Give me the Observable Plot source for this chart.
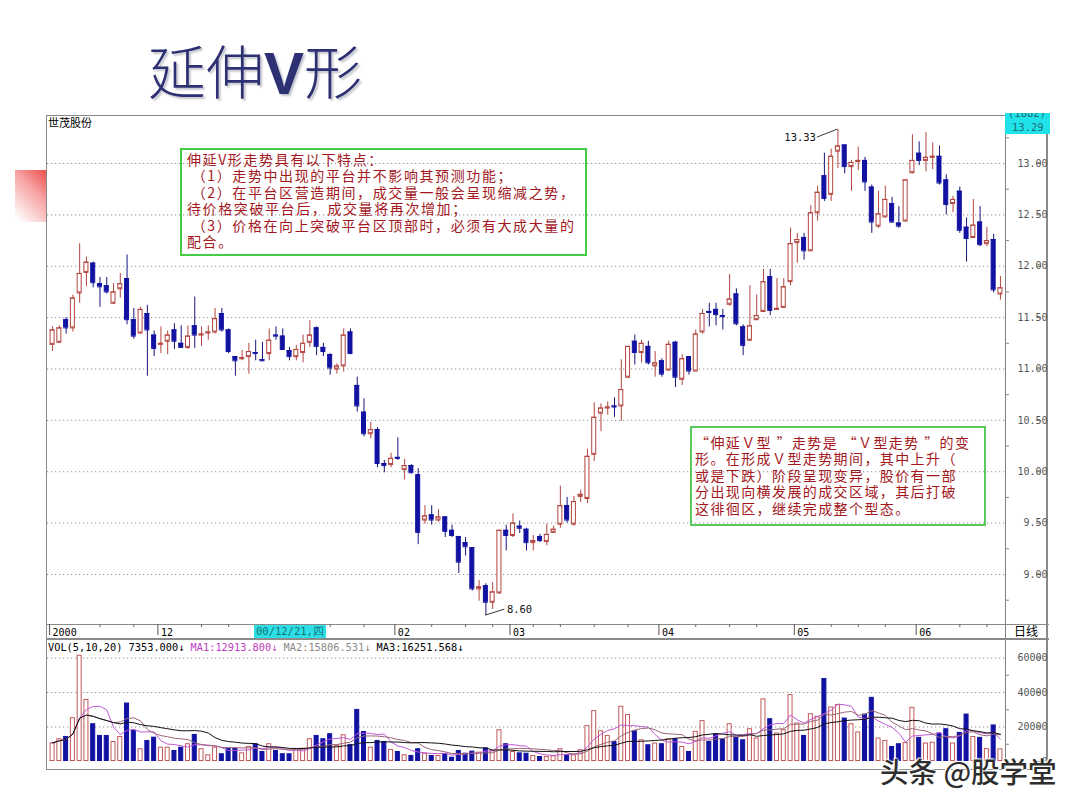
<!DOCTYPE html>
<html>
<head>
<meta charset="utf-8">
<script src="https://cdn.jsdelivr.net/npm/d3@7"></script>
<script src="https://cdn.jsdelivr.net/npm/@observablehq/plot@0.6"></script>
<style>
  html, body { margin: 0; padding: 0; background: #fff; }
  body { width: 1080px; height: 810px; position: relative; overflow: hidden; font-family: "Noto Sans CJK SC", sans-serif; }
  .abs { position: absolute; }
  #title { left: 148px; top: 40px; font-size: 58px; line-height: 58px; color: #2d3073; font-weight: 300; text-shadow: 2px 2px 2px rgba(60,60,90,0.3); white-space: nowrap; }
  #title b { font-family: "Liberation Sans", sans-serif; font-weight: 700; font-size: 60px; }
  #redsq { left: 15px; top: 170px; width: 31px; height: 52px; background: linear-gradient(225deg, #ef4f4f 0%, #f7a5a5 40%, #ffffff 95%); }
  #frame { left: 46px; top: 115px; width: 1002px; height: 655px; border: 1px solid #8a8a8a; border-right: 2px solid #8a8a8a; box-sizing: border-box; }
  .vline { background: #808080; width: 1px; }
  .hline { background: #8a8a8a; height: 1px; }
  .mono { font-family: "DejaVu Sans Mono", monospace; }
  .box { border: 2px solid #45cc45; box-sizing: border-box; color: #a3171d; }
  .box div { white-space: pre; }
  #box1 { left: 180px; top: 148px; width: 407px; height: 108px; padding: 1px 0 0 5px; font-size: 14px; line-height: 16.4px; letter-spacing: 1.6px; }
  #box2 { left: 690px; top: 426px; width: 296px; height: 100px; padding: 6px 0 0 3px; font-size: 14px; line-height: 16.4px; letter-spacing: 1.4px; border-width: 2.5px; border-color: #5bc95b; }
  #stock { left: 48px; top: 116px; font-size: 11px; line-height: 13px; color: #000; }
  #curbox { left: 1005px; top: 113px; width: 45px; height: 21px; background: #20e3ea; overflow: hidden; color: #1f6c78; font-size: 10.5px; }
  #curbox .a { position: absolute; left: 3px; top: -6px; }
  #curbox .b { position: absolute; left: 7px; top: 8px; }
  #datebox { left: 254px; top: 625px; width: 72px; height: 13px; background: #2ee0e6; color: #137278; font-size: 10.5px; line-height: 13px; padding-left: 2px; box-sizing: border-box; white-space: nowrap; }
  #rixian { left: 1014px; top: 624px; font-size: 12px; line-height: 14px; color: #000; }
  #volhead { left: 48px; top: 641px; font-size: 10.3px; line-height: 12px; white-space: pre; color: #000; }
  #wm { left: 880px; top: 754px; font-size: 28.5px; line-height: 34px; color: #2e2e2e; font-weight: 500; white-space: nowrap; text-shadow: 0 0 2px #fff, 0 0 2px #fff, 1px 1px 1px #fff, -1px -1px 1px #fff; }
  svg { overflow: visible; }
</style>
</head>
<body>
<div id="title" class="abs">延伸<b>V</b>形</div>
<div id="redsq" class="abs"></div>
<div id="frame" class="abs"></div>
<div class="abs vline" style="left:1005px;top:115px;height:655px;"></div>
<div class="abs hline" style="left:46px;top:624px;width:1003px;"></div>
<div class="abs hline" style="left:46px;top:638px;width:1003px;height:2px;"></div>
<div id="stock" class="abs">世茂股份</div>
<div id="curbox" class="abs mono"><span class="a">(1882)</span><span class="b">13.29</span></div>
<div id="price" class="abs" style="left:0;top:0;"></div>
<div id="vol" class="abs" style="left:0;top:620px;"></div>
<div id="datebox" class="abs mono">00/12/21,四</div>
<div id="rixian" class="abs">日线</div>
<div id="volhead" class="abs mono"></div>
<div id="box1" class="abs box">
<div>伸延V形走势具有以下特点：</div>
<div> （1）走势中出现的平台并不影响其预测功能；</div>
<div> （2）在平台区营造期间，成交量一般会呈现缩减之势，</div>
<div>待价格突破平台后，成交量将再次增加；</div>
<div> （3）价格在向上突破平台区顶部时，必须有大成大量的</div>
<div>配合。</div>
</div>
<div id="box2" class="abs box">
<div>“伸延Ｖ型 ”走势是 “Ｖ型走势 ”的变</div>
<div>形。在形成Ｖ型走势期间，其中上升（</div>
<div>或是下跌）阶段呈现变异，股价有一部</div>
<div>分出现向横发展的成交区域，其后打破</div>
<div>这徘徊区，继续完成整个型态。</div>
</div>
<div id="wm" class="abs">头条 @股学堂</div>

<script>
// ---- data ----
const opens = [11.24,11.26,11.48,11.40,11.74,11.94,12.03,11.83,11.81,11.64,11.78,11.88,11.48,11.35,11.54,11.33,11.24,11.27,11.38,11.25,
11.21,11.42,11.33,11.35,11.36,11.54,11.38,11.12,11.10,11.12,11.16,11.09,11.15,11.33,11.32,11.18,11.12,11.16,11.26,11.40,
11.21,11.14,11.00,11.03,11.36,10.84,10.58,10.37,10.41,10.08,10.07,10.14,10.02,10.06,9.97,9.53,9.58,9.53,9.56,9.43,
9.37,9.31,9.26,8.86,8.89,8.73,8.82,9.43,9.38,9.47,9.44,9.31,9.37,9.32,9.41,9.49,9.67,9.49,9.76,9.74,
10.17,10.57,10.62,10.64,10.64,10.92,11.27,11.16,11.22,11.03,11.08,10.99,11.26,10.90,11.12,10.98,11.36,11.56,11.58,11.52,
11.63,11.73,11.41,11.28,11.48,11.56,11.90,11.58,11.60,11.85,12.23,12.28,12.15,12.52,12.88,12.70,13.12,13.18,12.97,13.02,
13.03,12.77,12.39,12.48,12.61,12.42,12.44,12.91,13.10,13.03,13.06,13.07,12.84,12.61,12.73,12.38,12.28,12.43,12.22,12.26,
11.73];
const highs = [11.41,11.42,11.50,11.72,12.22,12.09,12.04,11.89,11.89,11.83,11.93,12.11,11.59,11.60,11.62,11.37,11.41,11.37,11.44,11.42,
11.42,11.70,11.41,11.42,11.59,11.59,11.39,11.12,11.18,11.25,11.28,11.26,11.39,11.41,11.39,11.21,11.23,11.33,11.47,11.41,
11.25,11.15,11.05,11.39,11.39,10.92,10.71,10.48,10.43,10.11,10.18,10.33,10.12,10.07,10.03,9.67,9.67,9.63,9.56,9.48,
9.37,9.36,9.26,8.94,8.91,8.92,9.43,9.48,9.59,9.52,9.45,9.38,9.39,9.49,9.47,9.86,9.75,9.76,9.82,10.22,
10.67,10.66,10.68,10.72,11.09,11.22,11.33,11.28,11.27,11.17,11.10,11.27,11.27,11.14,11.12,11.38,11.58,11.64,11.64,11.58,
11.92,11.78,11.43,11.81,11.72,11.97,11.97,11.88,11.88,12.37,12.32,12.32,12.59,12.78,13.10,13.14,13.33,13.18,13.03,13.16,
13.06,12.79,12.73,12.78,12.67,12.58,12.84,13.28,13.21,13.30,13.20,13.17,12.89,12.68,12.77,12.47,12.65,12.58,12.38,12.31,
11.90];
const lows = [11.17,11.25,11.34,11.36,11.64,11.80,11.79,11.60,11.73,11.63,11.69,11.43,11.29,11.34,10.93,11.12,11.15,11.14,11.19,11.20,
11.19,11.20,11.22,11.28,11.34,11.36,11.15,10.93,11.08,10.95,11.08,11.07,11.08,11.28,11.18,11.08,11.08,11.06,11.21,11.13,
11.12,10.94,10.95,10.97,11.14,10.58,10.34,10.32,10.04,9.99,10.04,10.11,9.92,9.98,9.29,9.49,9.48,9.51,9.36,9.36,
9.01,9.18,8.84,8.74,8.60,8.66,8.81,9.23,9.36,9.40,9.23,9.23,9.31,9.28,9.40,9.45,9.50,9.47,9.70,9.69,
10.10,10.39,10.55,10.53,10.49,10.91,11.04,11.06,11.04,10.92,10.92,10.98,10.82,10.84,10.94,10.98,11.34,11.41,11.42,11.38,
11.61,11.42,11.13,11.27,11.47,11.55,11.52,11.57,11.59,11.81,12.03,12.06,12.15,12.44,12.63,12.63,12.95,12.90,12.73,12.93,
12.73,12.32,12.37,12.47,12.42,12.37,12.43,12.90,12.98,12.92,12.94,12.79,12.50,12.52,12.32,12.04,12.28,12.19,12.19,11.74,
11.67];
const closes = [11.38,11.40,11.40,11.69,11.93,12.04,11.84,11.80,11.75,11.75,11.83,11.48,11.32,11.58,11.38,11.20,11.25,11.33,11.27,11.21,
11.32,11.33,11.34,11.36,11.49,11.38,11.17,11.08,11.11,11.17,11.15,11.08,11.28,11.32,11.19,11.12,11.19,11.25,11.33,11.22,
11.17,11.01,11.03,11.33,11.15,10.64,10.37,10.41,10.08,10.06,10.13,10.13,10.06,9.99,9.41,9.57,9.53,9.56,9.42,9.38,
9.12,9.27,8.86,8.88,8.73,8.83,9.43,9.38,9.50,9.45,9.31,9.33,9.33,9.39,9.44,9.67,9.53,9.71,9.78,10.15,
10.53,10.62,10.63,10.63,10.80,11.22,11.16,11.25,11.06,11.06,10.95,11.24,10.92,11.10,10.98,11.34,11.54,11.55,11.53,11.51,
11.68,11.44,11.23,11.42,11.52,11.85,11.57,11.59,11.80,12.22,12.26,12.15,12.52,12.72,12.66,13.07,13.17,12.97,13.01,13.03,
12.82,12.43,12.51,12.65,12.43,12.39,12.84,13.03,13.03,13.06,13.07,12.81,12.60,12.65,12.35,12.27,12.40,12.21,12.25,11.77,
11.79];
const volumes = [10800,13200,14500,25400,61600,36000,21900,15100,15100,11600,14500,33900,18000,7400,12200,14100,8300,8300,6400,8300,
10300,15700,7400,3900,8300,4500,7700,7700,5000,8700,10300,5800,10300,6400,4500,4500,7400,7700,13200,15100,
13200,16100,9300,15500,9900,30200,17400,8300,12200,11600,7000,5800,3900,3500,7400,4800,3500,3500,4500,2500,
6400,4800,6000,5400,7900,6400,18400,10300,5800,5000,4800,3500,2900,2900,3300,7400,3900,3900,6800,20800,
29500,17800,15100,11600,32000,27200,17800,12600,9700,10700,10300,13200,13200,8700,5800,17500,23700,11600,15900,13200,
21900,14000,12600,19000,13600,36300,24800,16500,18400,38800,22300,15100,27700,26200,48100,31600,33000,25200,21900,17100,
27500,37200,13600,12200,8700,10300,11000,31400,14000,10700,11200,16500,19000,10700,16900,27500,14500,14000,7500,21200,
7353];

const priceTicks = [9.00, 9.50, 10.00, 10.50, 11.00, 11.50, 12.00, 12.50, 13.00];
const priceMinor = [8.75, 9.25, 9.75, 10.25, 10.75, 11.25, 11.75, 12.25, 12.75, 13.25];
const volTicks = [0, 20000, 40000, 60000];
const volMinor = [10000, 30000, 50000];
const monthIdx = [0, 16, 51, 68, 90, 110, 128];
const monthLabels = ["2000", "12", "02", "03", "04", "05", "06"];
const weekIdx = [7, 12, 22, 26, 31, 36, 41, 46, 56, 61, 65, 71, 75, 80, 85, 95, 100, 104, 115, 119, 123, 134, 138];
const maPeriods = [5, 10, 20];
const maNames = ["MA1", "MA2", "MA3"];
const peakLabel = {i: 116, value: 13.33, text: "13.33"};
const troughLabel = {i: 64, value: 8.60, text: "8.60"};
const volHeader = {name: "VOL(5,10,20)", last: "7353.000", ma: ["12913.800", "15806.531", "16251.568"]};

// ---- styling ----
const UP = "#b3453f", UPFILL = "#ffffff", DOWN = "#1111a2", DOWNWICK = "#14147a";
const MA_COLORS = ["#c058d8", "#9a6676", "#111111"];
const MA_TEXT = ["#c03cc0", "#8a8a8a", "#000000"];
const MONO = "DejaVu Sans Mono, monospace";
const noLabel = () => "";

const candles = opens.map((o, i) => ({
  i, o, h: highs[i], l: lows[i], c: closes[i], v: volumes[i], up: closes[i] >= opens[i]
}));
const n = candles.length;
const xScale = {type: "band", domain: d3.range(n), paddingInner: 0.26, paddingOuter: 0.38, align: 0.5, axis: null};

// price panel geometry: 13.00 at y=163, 9.00 at y=574
const pxPerUnit = (574 - 163) / 4;
const yTop = 13 + (163 - 116) / pxPerUnit;
const yBot = 13 - (624 - 163) / pxPerUnit;

const labelOf = new Map(monthIdx.map((d, k) => [d, monthLabels[k]]));

const price = Plot.plot({
  width: 1080, height: 640,
  marginLeft: 47, marginRight: 75, marginTop: 116, marginBottom: 16,
  style: {background: "transparent", fontFamily: MONO, fontSize: "10px", color: "#555"},
  x: xScale,
  y: {domain: [yBot, yTop], axis: null},
  marks: [
    Plot.gridY(priceTicks, {stroke: "#8e8e8e", strokeOpacity: 1, strokeDasharray: "1.2,2.8"}),
    Plot.axisY(priceTicks, {anchor: "right", label: null, tickSize: 5, tickPadding: 7, tickFormat: d3.format(".2f"),
      stroke: "#777", fill: "#555", textAnchor: "end", dx: 30, fontFamily: MONO, fontSize: 10}),
    Plot.axisY(priceMinor.filter(d => d > yBot && d < yTop), {anchor: "right", label: null, tickSize: 3, tickFormat: noLabel, stroke: "#888"}),
    Plot.axisX(monthIdx, {anchor: "bottom", label: null, tickSize: 0, tickPadding: 4, tickFormat: d => labelOf.get(d),
      textAnchor: "start", dx: 0, fill: "#000", fontFamily: MONO, fontSize: 10}),
    Plot.axisX(monthIdx, {anchor: "bottom", label: null, tickSize: 11, tickFormat: noLabel, stroke: "#555", dx: -3}),
    Plot.axisX(weekIdx, {anchor: "bottom", label: null, tickSize: 3, tickFormat: noLabel, stroke: "#666"}),
    Plot.ruleX(candles, {x: "i", y1: "l", y2: "h", stroke: d => d.up ? UP : DOWNWICK, strokeWidth: 1}),
    Plot.barY(candles, {x: "i", y1: "o", y2: "c", fill: d => d.up ? UPFILL : DOWN, stroke: d => d.up ? UP : DOWN, strokeWidth: 1, inset: 0.5}),
    Plot.tickY(candles, {x: "i", y: "c", stroke: d => d.up ? UP : DOWN, strokeWidth: 1}),
    Plot.tickY(candles, {x: "i", y: "o", stroke: d => d.up ? UP : DOWN, strokeWidth: 1}),
    Plot.text([peakLabel], {x: "i", y: "value", text: "text", dx: -22, dy: 8, textAnchor: "end", fill: "#111", fontFamily: MONO, fontSize: 10.5}),
    Plot.text([troughLabel], {x: "i", y: "value", text: "text", dx: 21, dy: -6, textAnchor: "start", fill: "#111", fontFamily: MONO, fontSize: 10.5})
  ]
});
document.getElementById("price").appendChild(price);

// leader lines for the two extreme labels, positioned through the plot's scales
{
  const xs = price.scale("x"), ys = price.scale("y");
  const cx = i => xs.apply(i) + xs.bandwidth / 2;
  const svg = d3.select(price);
  const px = cx(peakLabel.i), py = ys.apply(peakLabel.value);
  svg.append("path").attr("d", `M${px - 20.5},${py + 8}L${px},${py}`).attr("stroke", "#222").attr("fill", "none").attr("stroke-width", 0.9);
  const tx = cx(troughLabel.i), ty = ys.apply(troughLabel.value);
  svg.append("path").attr("d", `M${tx},${ty}L${tx + 19},${ty - 6}`).attr("stroke", "#222").attr("fill", "none").attr("stroke-width", 0.9);
}

// ---- volume panel ----
const volMaxY = 60000 * (761 - 641) / (761 - 657.5);
const vol = Plot.plot({
  width: 1080, height: 160,
  marginLeft: 47, marginRight: 75, marginTop: 21, marginBottom: 19,
  style: {background: "transparent", fontFamily: MONO, fontSize: "10px", color: "#555"},
  x: xScale,
  y: {domain: [0, volMaxY], axis: null},
  marks: [
    Plot.gridY(volTicks.filter(d => d > 0), {stroke: "#8e8e8e", strokeOpacity: 1, strokeDasharray: "1.2,2.8"}),
    Plot.axisY(volTicks, {anchor: "right", label: null, tickSize: 5, tickPadding: 7, tickFormat: d3.format("d"),
      stroke: "#777", fill: "#555", textAnchor: "end", dx: 30, fontFamily: MONO, fontSize: 10}),
    Plot.axisY(volMinor, {anchor: "right", label: null, tickSize: 3, tickFormat: noLabel, stroke: "#888"}),
    Plot.barY(candles, {x: "i", y: "v", fill: d => d.up ? UPFILL : DOWN, stroke: d => d.up ? "#c05a5a" : DOWN, strokeWidth: 1, inset: 0.5}),
    ...maPeriods.map((k, j) => Plot.lineY(candles, Plot.windowY({k, anchor: "end", reduce: "mean"}, {x: "i", y: "v", stroke: MA_COLORS[j], strokeWidth: 1})))
  ]
});
document.getElementById("vol").appendChild(vol);

// volume header text
{
  const head = document.getElementById("volhead");
  const add = (txt, color) => { const s = document.createElement("span"); s.textContent = txt; s.style.color = color; head.appendChild(s); };
  add(`${volHeader.name} ${volHeader.last}↓ `, "#000");
  maNames.forEach((nm, j) => add(`${nm}:${volHeader.ma[j]}↓ `, MA_TEXT[j]));
}
</script>
</body>
</html>
